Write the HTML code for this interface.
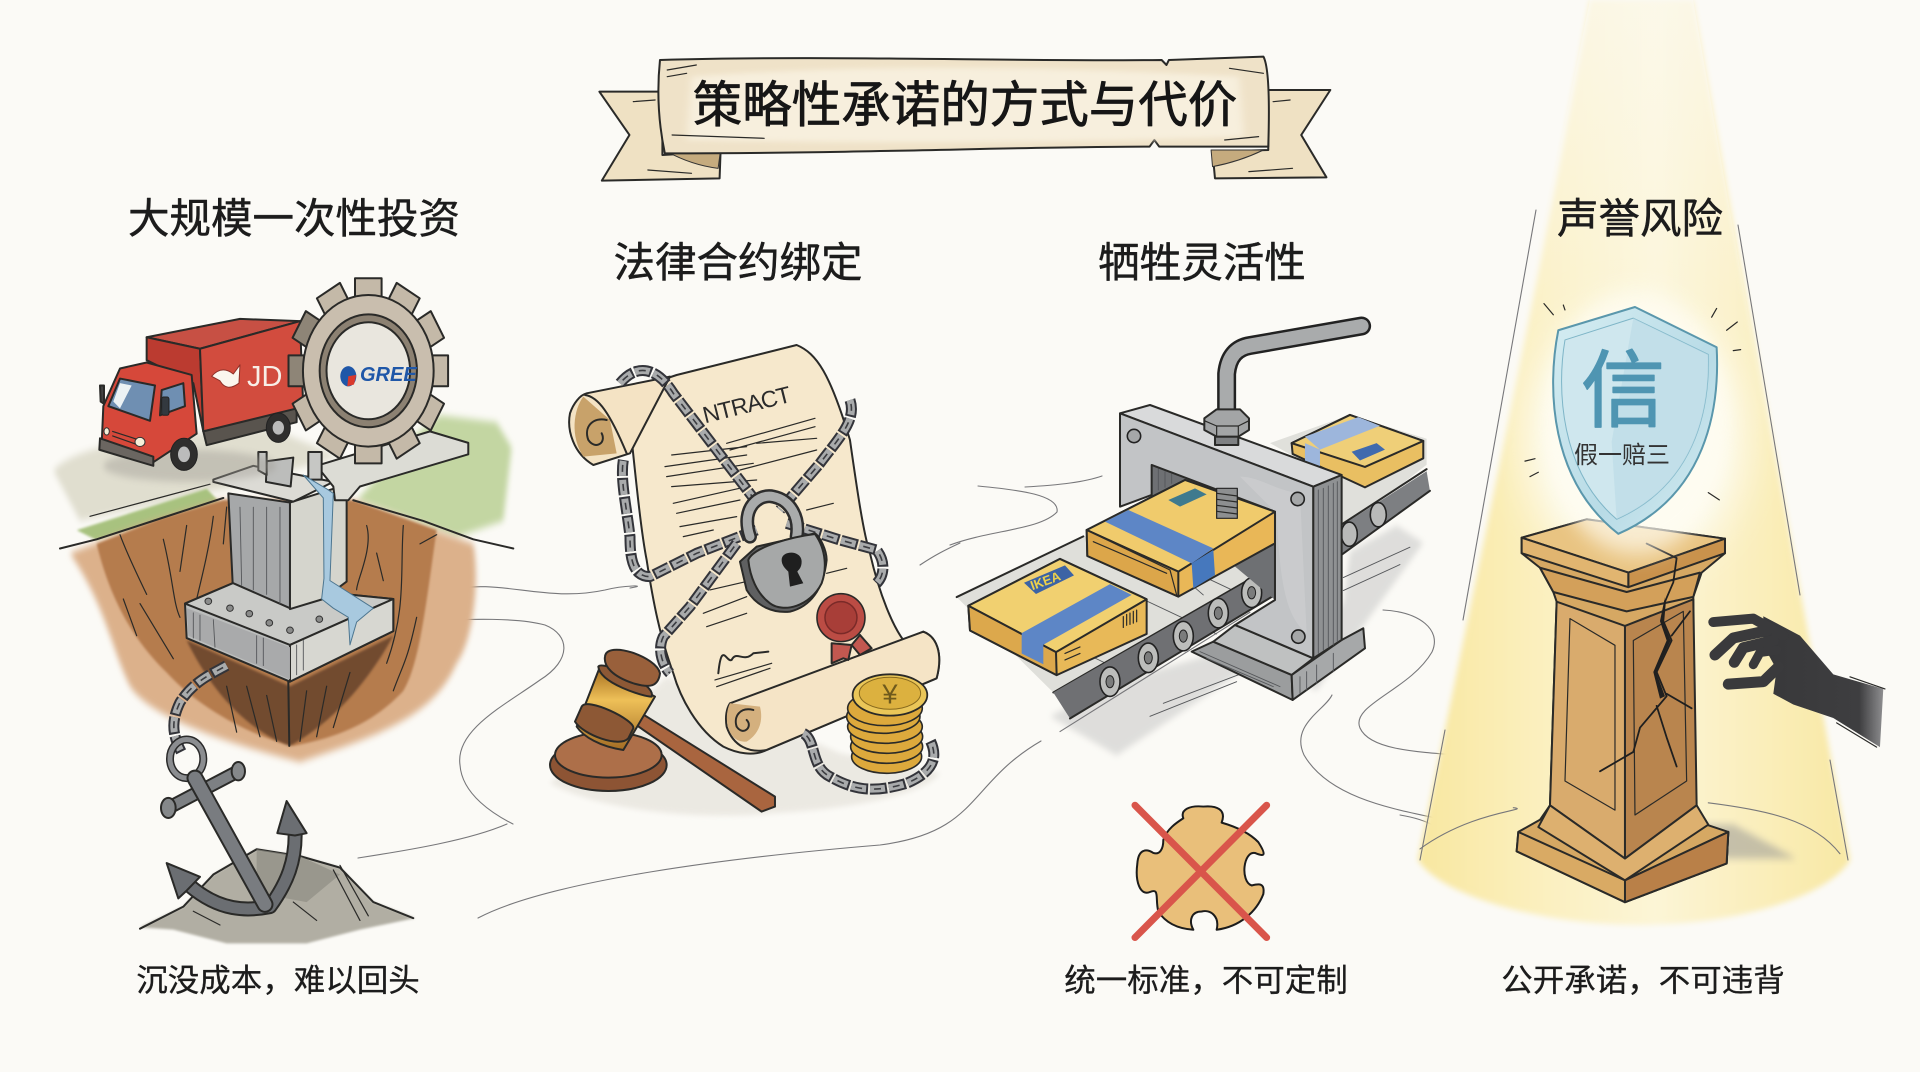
<!DOCTYPE html>
<html lang="zh"><head><meta charset="utf-8"><title>策略性承诺的方式与代价</title>
<style>
html,body{margin:0;padding:0;background:#fbfaf6;width:1920px;height:1072px;overflow:hidden}
svg{display:block}
svg *{vector-effect:non-scaling-stroke;stroke-linejoin:round;stroke-linecap:round}
text{font-family:"Liberation Sans","Noto Sans CJK SC",sans-serif;vector-effect:none}
.h{font-size:41.5px;fill:#1c1c1c;text-anchor:middle;stroke:#1c1c1c;stroke-width:.5px}
.c{font-size:31.5px;fill:#1c1c1c;text-anchor:middle;stroke:#1c1c1c;stroke-width:.3px}
.k{stroke:#2a2a28;stroke-width:2px}
.t{fill:none;stroke:#2a2a28;stroke-width:1.2px}
.s{fill:none;stroke:#77777a;stroke-width:1.1px}
.ch1{fill:none;stroke:#33343a;stroke-width:11px;stroke-dasharray:17 2;stroke-linecap:butt}
.ch2{fill:none;stroke:#a9abac;stroke-width:7px;stroke-dasharray:15 4;stroke-linecap:butt}
.ch3{fill:none;stroke:#3d3e42;stroke-width:1.6px;stroke-dasharray:7 12;stroke-dashoffset:-4;stroke-linecap:butt}
.hh{fill:none;stroke:#55575a;stroke-width:.9px}
</style></head><body>
<svg xmlns="http://www.w3.org/2000/svg" width="1920" height="1072" viewBox="0 0 1920 1072">
<defs>
<filter id="b" x="-20%" y="-20%" width="140%" height="140%"><feGaussianBlur stdDeviation="8"/></filter>
<filter id="b3" x="-10%" y="-10%" width="120%" height="120%"><feGaussianBlur stdDeviation="3"/></filter>
<filter id="b2" x="-30%" y="-30%" width="160%" height="160%"><feGaussianBlur stdDeviation="22"/></filter>
<linearGradient id="beam" x1="0" x2="1" y1="0" y2="0"><stop offset="0" stop-color="#f8e7a0"/><stop offset=".3" stop-color="#fbf0c0"/><stop offset=".55" stop-color="#fcf5d6"/><stop offset="1" stop-color="#f8e8a4"/></linearGradient>
<linearGradient id="fade" x1="0" x2="0" y1="0" y2="1"><stop offset="0" stop-color="#fbfaf6" stop-opacity=".6"/><stop offset="1" stop-color="#fbfaf6" stop-opacity="0"/></linearGradient>
<linearGradient id="sh" x1="0" x2="1" y1="0" y2="1"><stop offset="0" stop-color="#d5edf2"/><stop offset=".6" stop-color="#b8dbe6"/><stop offset="1" stop-color="#d6edf2"/></linearGradient>
<linearGradient id="gold" x1="0" x2="0" y1="0" y2="1"><stop offset="0" stop-color="#a36a1c"/><stop offset=".4" stop-color="#eec058"/><stop offset="1" stop-color="#a46d24"/></linearGradient>
<linearGradient id="hand" x1="0" x2="1" y1="0" y2="0"><stop offset="0" stop-color="#38383a"/><stop offset=".8" stop-color="#3e3e40"/><stop offset="1" stop-color="#8e8e90"/></linearGradient>
</defs>
<rect width="1920" height="1072" fill="#fbfaf6"/>

<!-- background squiggles -->
<g>
<path class="s" d="M450,590 C500,578 545,603 605,590 C625,585 650,585 630,588"/>
<path class="s" d="M427,622 C470,618 520,618 545,625 C570,635 572,660 540,680 C505,705 455,730 460,765 C462,795 495,815 513,824"/>
<path class="s" d="M358,858 C410,850 470,840 507,824"/>
<path class="s" d="M478,918 C550,880 735,857 880,845 C980,832 967,784 1041,741"/>
<path class="s" d="M978,486 C1020,490 1060,495 1057,512 C1040,530 990,530 950,545"/>
<path class="s" d="M1025,487 C1060,485 1085,482 1102,476"/>
<path class="s" d="M920,565 C935,555 945,550 960,543"/>
<path class="s" d="M1383,610 C1420,612 1442,630 1432,652 C1410,690 1350,705 1360,728 C1372,755 1440,752 1505,759"/>
<path class="s" d="M1332,695 C1325,710 1290,725 1304,755 C1330,800 1400,810 1445,820"/>
<path class="s" d="M1400,815 C1430,820 1445,830 1447,842"/>
</g>

<!-- Spotlight -->
<g>
<path d="M1590,0 L1693,0 C1730,200 1790,540 1850,860 C1830,895 1740,925 1640,925 C1540,925 1440,895 1418,860 C1480,560 1555,200 1590,0Z" fill="url(#beam)" filter="url(#b3)"/>
<path d="M1590,0 L1693,0 L1770,440 L1500,440Z" fill="url(#fade)"/>
<ellipse cx="1635" cy="440" rx="110" ry="130" fill="#fdfbef" filter="url(#b2)"/>
<path class="s" d="M1536,210 L1463,620"/><path class="s" d="M1738,225 L1800,595"/><path class="s" d="M1445,730 L1420,860"/><path class="s" d="M1830,760 L1848,860"/>
</g>

<!-- Banner -->
<g transform="translate(580,40) scale(.4847,.3333)">
<path class="k" d="M40,155 L170,155 L170,345 L290,335 L288,415 L45,422 L102,285Z" fill="#efe1c3"/>
<path class="k" d="M1548,150 L1420,150 L1420,330 L1305,335 L1310,415 L1540,412 L1488,285Z" fill="#efe1c3"/>
<path d="M180,335 Q230,375 285,385 L290,330Z M1410,330 Q1360,365 1305,380 L1302,330Z" fill="#c5ab7e" stroke="#333" stroke-width="1"/>
<path class="k" d="M165,60 C500,45 900,65 1200,60 L1210,75 L1215,60 L1410,50 Q1425,90 1420,320 L1195,320 L1185,300 L1175,320 C900,320 600,340 175,340 Q155,200 165,60Z" fill="#efe2c8"/>
<path d="M230,110 C600,70 1000,80 1360,110 L1370,290 C1000,310 600,310 220,300Z" fill="#f7efdd" filter="url(#b)"/>
<path class="t" d="M180,90 L240,75 M180,110 L220,100 M190,285 L380,295 M1340,85 L1410,100 M1330,300 L1400,290 M110,185 L155,180 M1430,185 L1465,180 M140,390 L230,400 M1380,395 L1470,385" stroke="#8c8471"/>
</g>
<text x="965" y="122" font-size="49.5" fill="#161616" stroke="#161616" stroke-width=".8" text-anchor="middle">策略性承诺的方式与代价</text>

<!-- Headings -->
<text class="h" x="294" y="233">大规模一次性投资</text>
<text class="h" x="738" y="277">法律合约绑定</text>
<text class="h" x="1202" y="277">牺牲灵活性</text>
<text class="h" x="1640" y="233">声誉风险</text>
<text class="c" x="278" y="991">沉没成本，难以回头</text>
<text class="c" x="1206" y="991">统一标准，不可定制</text>
<text class="c" x="1643" y="991">公开承诺，不可违背</text>

<!-- SECTION 1 -->
<g transform="translate(40,250) scale(.3333,.4592)">
<path d="M40,480 C100,430 300,400 700,390 L900,450 L560,520 L120,590Z" fill="#e0decf" filter="url(#b)"/>
<path d="M1130,400 L1200,360 L1370,375 L1415,430 L1390,590 L1250,625 L950,545Z" fill="#c3d6a2" filter="url(#b)"/>
<path d="M110,610 L500,520 L540,550 L360,590 L170,632Z" fill="#a8c27f" filter="url(#b3)"/>
<path d="M90,660 L300,600 L540,545 L940,545 L1300,640 C1320,720 1300,850 1250,900 C1180,1020 1000,1060 780,1115 C650,1090 340,1030 270,950 C210,860 200,780 90,660Z" fill="#dcb18b" filter="url(#b)"/>
<path d="M170,640 L360,585 L550,545 L940,545 L1190,610 C1160,760 1140,900 1090,960 C1000,1030 900,1060 760,1080 C640,1060 480,1000 380,920 C280,850 210,760 170,640Z" fill="#b57b4e" filter="url(#b3)"/>
<path class="t" d="M240,620 C260,660 300,720 320,750 M370,630 C400,720 400,770 420,800 M520,580 C510,640 490,700 470,760 M1090,600 C1080,700 1100,780 1040,900 M1190,620 L1140,640 M980,600 C1000,650 950,720 950,740 M300,770 L400,890 M1130,800 C1100,900 1090,900 1060,960 M440,600 L420,700 M560,560 L550,640 M1010,660 L1030,720 M250,760 L290,840"/>
<path d="M440,850 L750,950 L1060,840 C1000,920 900,1020 750,1080 C600,1040 500,940 440,850Z" fill="#5c3b25" opacity=".75" filter="url(#b3)"/>
<path class="t" d="M560,950 L590,1050 M620,950 L660,1060 M680,970 L710,1070 M800,960 L780,1070 M860,950 L830,1060 M930,920 L880,1040"/>
<path class="k" d="M745,940 L748,1080" stroke-width="2.5"/>
<path class="k" d="M60,650 L170,630 L360,585 L550,540 M940,545 L1150,590 L1300,630 L1420,650" fill="none"/>
<path class="t" d="M150,580 L330,545 L510,510"/>
<path class="k" d="M435,770 L580,725 L1060,760 L1060,830 L750,940 L440,845Z" fill="#bcbebd"/>
<path class="k" d="M435,770 L580,725 L1060,760 L750,860Z" fill="#c9cac7"/>
<path class="k" d="M750,860 L1060,760 L1060,830 L750,940Z" fill="#d7d7d1"/>
<path d="M440,780 L750,865 L750,935 L445,840Z" fill="#a9aaab"/>
<path class="hh" d="M460,790 L460,845 M480,795 L480,850 M520,805 L525,865 M650,840 L650,900 M670,845 L670,905 M770,860 L770,925 M790,850 L790,915"/>
<g fill="#8a8b8a" stroke="#333" stroke-width="1"><ellipse cx="505" cy="765" rx="10" ry="7"/><ellipse cx="570" cy="780" rx="10" ry="7"/><ellipse cx="628" cy="792" rx="10" ry="7"/><ellipse cx="688" cy="812" rx="10" ry="7"/><ellipse cx="750" cy="828" rx="10" ry="7"/><ellipse cx="838" cy="804" rx="10" ry="7"/></g>
<path class="k" d="M565,530 L750,550 L750,780 L578,725Z" fill="#a6a8a9"/>
<path class="hh" d="M600,560 L605,730 M640,560 L640,740 M680,560 L680,750 M720,560 L720,770"/>
<path class="k" d="M750,550 L880,520 L920,510 L920,722 L850,760 L750,782Z" fill="#d5d5cd"/>
<path class="k" d="M520,500 L640,470 L880,505 L760,548 L520,505Z" fill="#dcdbd5"/>
<path class="k" d="M880,515 L830,470 L1170,395 L1285,420 L1285,445 L960,515 L925,545 L885,545Z" fill="#dcdcd5"/>
<path class="k" d="M680,460 L760,452 L752,515 L678,505Z" fill="#bcbdbb"/>
<path class="k" d="M655,440 L680,440 L680,490 L655,480Z M805,440 L845,440 L845,500 L805,500Z" fill="#c6c7c4"/>
<path d="M790,490 L860,520 L880,530 L870,720 L1000,780 L950,810 L930,860 L925,800 L880,780 L845,760 L852,715 L850,540Z" fill="#a8c9df" stroke="#4d7690" stroke-width="1"/>
<!-- truck -->
<ellipse cx="450" cy="470" rx="260" ry="35" fill="#a19e96" opacity=".45" filter="url(#b)"/>
<path class="k" d="M320,190 L600,150 L780,155 L480,215Z" fill="#c75044"/>
<path class="k" d="M320,190 L480,215 L490,395 L460,290 L320,240Z" fill="#bb3b30"/>
<path class="k" d="M480,215 L780,155 L790,345 L490,395Z" fill="#d24c3e"/>
<path class="k" d="M490,395 L770,345 L770,375 L500,425Z" fill="#59544e"/>
<ellipse cx="715" cy="387" rx="36" ry="32" fill="#2f2e2d" stroke="#222"/><ellipse cx="715" cy="387" rx="17" ry="15" fill="#bbb"/>
<path class="k" d="M190,340 L240,258 L320,245 L455,272 L470,400 L340,462 L185,425Z" fill="#d6483a"/>
<path class="k" d="M205,340 L240,280 L345,295 L330,372Z" fill="#6f8fb2"/>
<path d="M220,330 L240,290 L275,295 L240,345Z" fill="#ecf2f4"/>
<path class="k" d="M365,305 L430,290 L435,340 L360,360Z" fill="#6f8fb2"/>
<rect x="365" y="320" width="22" height="40" rx="5" fill="#33393f" stroke="#222"/>
<path class="k" d="M180,295 L192,295 L192,335 L182,330Z" fill="#444"/>
<path class="k" d="M180,410 L340,450 L340,470 L178,435Z" fill="#6b6661"/>
<path class="t" d="M218,395 L290,412 M218,405 L285,422"/>
<ellipse cx="300" cy="418" rx="15" ry="10" fill="#f6efd8" stroke="#333"/><ellipse cx="200" cy="395" rx="8" ry="8" fill="#f6efd8" stroke="#333"/>
<ellipse cx="432" cy="445" rx="40" ry="35" fill="#2f2e2d" stroke="#222"/><ellipse cx="432" cy="445" rx="18" ry="17" fill="#bbb"/>
<path d="M515,275 Q545,250 580,270 L600,250 L597,290 Q560,310 540,285Z" fill="#fbf6ee" stroke="#8e3028" stroke-width="1"/>
<!-- gear -->
<g transform="translate(985,263) scale(1.14,.96)">
<g fill="#c4b9a8" stroke="#2a2a28" stroke-width="2">
<rect x="-35" y="-210" width="70" height="60"/>
<rect x="-35" y="-210" width="70" height="60" transform="rotate(30)"/>
<rect x="-35" y="-210" width="70" height="60" transform="rotate(60)"/>
<rect x="-35" y="-210" width="70" height="60" transform="rotate(90)"/>
<rect x="-35" y="-210" width="70" height="60" transform="rotate(120)"/>
<rect x="-35" y="-210" width="70" height="60" transform="rotate(150)"/>
<rect x="-35" y="-210" width="70" height="60" transform="rotate(180)"/>
<rect x="-35" y="-210" width="70" height="60" transform="rotate(210)"/>
<rect x="-35" y="-210" width="70" height="60" transform="rotate(240)"/>
<rect x="-35" y="-210" width="70" height="60" transform="rotate(270)" fill="#8e8577"/>
<rect x="-35" y="-210" width="70" height="60" transform="rotate(300)" fill="#8e8577"/>
<rect x="-35" y="-210" width="70" height="60" transform="rotate(330)"/>
</g>
<circle r="172" fill="#c9beae" stroke="#2a2a28" stroke-width="2"/>
<circle r="128" fill="#8c8172" stroke="#2a2a28" stroke-width="2"/>
<circle r="110" fill="#e9e6de" stroke="#2a2a28" stroke-width="2"/>
</g>
<ellipse cx="925" cy="275" rx="24" ry="22" fill="#1f57a8"/>
<path d="M925,275 L949,272 L942,293 L922,297Z" fill="#d9392c"/>
<!-- rock -->
<path d="M300,1475 L430,1430 L520,1360 L650,1305 L780,1320 L900,1345 L1000,1420 L1125,1455 L960,1480 L800,1510 L560,1510 L400,1480Z" fill="#b1aea3" filter="url(#b3)"/>
<path class="k" d="M300,1478 L430,1430 L520,1360 L650,1305 L780,1320 L900,1345 L1000,1420 L1120,1455" fill="none"/>
<path d="M650,1305 L780,1320 L900,1360 L800,1420 L650,1400Z" fill="#8f8d83" opacity=".7"/>
<path class="t" d="M880,1350 L960,1460 M900,1340 L985,1450 M460,1440 L540,1470 M760,1420 L830,1460"/>
<!-- chain -->
<path class="ch1" d="M560,905 C510,925 460,940 420,985 C390,1030 400,1060 425,1095"/>
<path class="ch2" d="M560,905 C510,925 460,940 420,985 C390,1030 400,1060 425,1095"/>
<path class="ch3" d="M560,905 C510,925 460,940 420,985 C390,1030 400,1060 425,1095"/>
<!-- anchor -->
<ellipse cx="440" cy="1108" rx="50" ry="42" fill="none" stroke="#2a2a2a" stroke-width="8"/>
<ellipse cx="440" cy="1108" rx="50" ry="42" fill="none" stroke="#8b8d90" stroke-width="5"/>
<path d="M385,1215 L595,1135" fill="none" stroke="#2a2a28" stroke-width="14"/>
<path d="M385,1215 L595,1135" fill="none" stroke="#7d8083" stroke-width="10"/>
<circle cx="385" cy="1215" r="22" fill="#85888a" stroke="#2a2a28" stroke-width="2"/><circle cx="595" cy="1135" r="20" fill="#85888a" stroke="#2a2a28" stroke-width="2"/>
<path d="M450,1385 C540,1440 620,1440 690,1430 C740,1380 770,1330 765,1260" fill="none" stroke="#2a2a28" stroke-width="15"/>
<path d="M450,1385 C540,1440 620,1440 690,1430 C740,1380 770,1330 765,1260" fill="none" stroke="#6b6e72" stroke-width="11"/>
<path d="M465,1150 L675,1425" fill="none" stroke="#2a2a28" stroke-width="17"/>
<path d="M465,1150 L675,1425" fill="none" stroke="#797c80" stroke-width="13"/>
<path class="k" d="M380,1335 L480,1365 L440,1395 L415,1412Z" fill="#6b6e72"/>
<path class="k" d="M740,1200 L800,1270 L765,1275 L712,1270Z" fill="#6b6e72"/>
</g>
<text x="247" y="386" font-size="29" fill="#f8efe7" style="font-family:'Liberation Sans',sans-serif">JD</text>
<text x="360" y="381" font-size="20" font-weight="700" font-style="italic" fill="#1f57a8" style="font-family:'Liberation Sans',sans-serif">GREE</text>

<!-- SECTION 2 -->
<g transform="translate(540,320) scale(.3333)">
<path d="M30,1390 C200,1480 500,1500 700,1480 C900,1470 1150,1430 1200,1360 L900,1300 L380,1070Z" fill="#e5e2da" opacity=".7" filter="url(#b)"/>
<path class="k" d="M260,215 L410,165 L770,75 C830,100 870,160 930,360 C950,500 970,640 990,700 C1020,830 1060,920 1090,960 L1150,935 C1190,950 1210,1000 1190,1075 L680,1290 C640,1310 590,1300 550,1280 C470,1230 420,1130 400,1060 C360,950 340,850 320,720 C300,620 280,400 260,215Z" fill="#f6e8cc"/>
<path class="k" d="M140,220 L390,170 L270,400 L160,435 C100,400 80,330 90,280 C100,250 120,225 140,220Z" fill="#f4e3c4"/>
<path d="M130,230 C100,270 90,350 130,410 L230,400 L210,300Z" fill="#c8a26a"/>
<path class="k" d="M200,300 C160,290 130,320 145,360 C165,390 200,370 185,340" fill="none"/>
<path class="k" d="M135,225 C175,230 210,280 260,400" fill="none"/>
<path class="k" d="M570,1150 L1150,935 C1190,950 1210,1000 1190,1075 L680,1290 C630,1300 580,1280 560,1220 C555,1190 560,1165 570,1150Z" fill="#f5e4c6"/>
<path d="M570,1150 C550,1190 560,1270 620,1265 C660,1240 670,1200 660,1160Z" fill="#d4b07e"/>
<path class="k" d="M640,1170 C600,1160 580,1190 590,1220 C610,1250 640,1220 620,1200" fill="none"/>
<text transform="translate(495,310) rotate(-14)" font-size="70" fill="#2b2b2b" style="font-family:'Liberation Sans',sans-serif" textLength="270">NTRACT</text>
<path class="t" stroke="#6f685a" d="M560,370 L825,295 M570,390 L825,320 M395,405 L620,380 M650,370 L830,355 M375,440 L620,405 M600,450 L830,390 M380,470 L640,430 M395,500 L650,480 M400,550 L620,500 M410,580 L600,540 M420,620 L590,590 M430,650 L520,630 M800,570 L880,550 M510,810 L640,780 M490,880 L620,830 M500,920 L620,880 M860,760 L920,745"/>
<path class="k" d="M535,1060 C545,960 560,1030 575,1020 C590,990 610,1030 640,1000 L685,995" fill="none" stroke-width="2"/>
<path class="t" d="M525,1080 L695,1030 M530,1100 L690,1045"/>
<!-- chains -->
<path class="ch1" d="M240,190 C290,130 350,140 400,220 L660,560"/><path class="ch2" d="M240,190 C290,130 350,140 400,220 L660,560"/><path class="ch3" d="M240,190 C290,130 350,140 400,220 L660,560"/>
<path class="ch1" d="M930,240 C950,300 900,350 840,430 L720,570"/><path class="ch2" d="M930,240 C950,300 900,350 840,430 L720,570"/><path class="ch3" d="M930,240 C950,300 900,350 840,430 L720,570"/>
<path class="ch1" d="M650,630 L470,700 L330,770 C280,770 270,720 270,650 C260,560 240,480 250,420"/><path class="ch2" d="M650,630 L470,700 L330,770 C280,770 270,720 270,650 C260,560 240,480 250,420"/><path class="ch3" d="M650,630 L470,700 L330,770 C280,770 270,720 270,650 C260,560 240,480 250,420"/>
<path class="ch1" d="M740,610 L900,660 L1010,690 C1040,730 1030,770 1010,790"/><path class="ch2" d="M740,610 L900,660 L1010,690 C1040,730 1030,770 1010,790"/><path class="ch3" d="M740,610 L900,660 L1010,690 C1040,730 1030,770 1010,790"/>
<path class="ch1" d="M590,670 L450,860 L370,950 C350,990 370,1040 390,1060"/><path class="ch2" d="M590,670 L450,860 L370,950 C350,990 370,1040 390,1060"/><path class="ch3" d="M590,670 L450,860 L370,950 C350,990 370,1040 390,1060"/>
<path d="M630,650 C600,560 660,520 700,530 C750,540 780,590 770,650" fill="none" stroke="#2d2d2d" stroke-width="14"/>
<path d="M630,650 C600,560 660,520 700,530 C750,540 780,590 770,650" fill="none" stroke="#a9abab" stroke-width="9"/>
<path class="k" d="M600,725 L620,810 C650,860 700,880 750,875 C810,860 850,810 860,720 C860,690 840,650 825,640 L650,680Z" fill="#5f6061"/>
<path class="k" d="M625,720 C640,680 760,650 825,642 C860,690 860,750 845,790 C810,860 730,880 690,850 C650,820 630,770 625,720Z" fill="#a6a8a8"/>
<path d="M725,720 C725,690 785,690 785,725 C785,745 775,750 772,755 L790,790 L750,800 L745,755 C735,745 725,735 725,720Z" fill="#1f1f1f"/>
<path class="k" d="M875,970 L875,1030 L910,1015 L925,1020 L935,975Z M935,975 L960,1005 L995,985 L960,945Z" fill="#c25850" stroke-width="1.5"/>
<circle cx="903" cy="893" r="72" fill="#bb4c44" stroke="#2a2a28" stroke-width="1.6"/>
<circle cx="903" cy="893" r="48" fill="#a83e38" stroke="#7a2a28" stroke-width="1.5"/>
<!-- gavel -->
<ellipse cx="205" cy="1335" rx="175" ry="78" fill="#8d5434" stroke="#2a2a28" stroke-width="2"/>
<ellipse cx="205" cy="1305" rx="160" ry="68" fill="#ad6f49" stroke="#2a2a28" stroke-width="2"/>
<path d="M280,1165 L360,1215 L705,1430 L705,1460 L665,1475 L310,1230 L275,1205Z" fill="#a9653f" stroke="#2a2a28" stroke-width="2"/>
<path class="k" d="M110,1220 L180,1040 L345,1130 L250,1290 C180,1280 130,1250 110,1220Z" fill="url(#gold)"/>
<path class="k" d="M175,1040 C185,1020 350,1090 335,1130 C310,1130 180,1090 175,1040Z M125,1160 C140,1130 285,1200 280,1225 L265,1255 C240,1285 130,1245 105,1205Z" fill="#8d5835"/>
<path class="k" d="M195,1010 C200,960 350,1010 360,1060 C355,1100 330,1105 280,1090 C220,1070 190,1040 195,1010Z" fill="#99603b"/>
<!-- coins -->
<path class="ch1" d="M790,1240 C830,1260 810,1340 870,1370 C940,1410 1000,1420 1100,1390 C1170,1360 1200,1320 1170,1260"/><path class="ch2" d="M790,1240 C830,1260 810,1340 870,1370 C940,1410 1000,1420 1100,1390 C1170,1360 1200,1320 1170,1260"/><path class="ch3" d="M790,1240 C830,1260 810,1340 870,1370 C940,1410 1000,1420 1100,1390 C1170,1360 1200,1320 1170,1260"/>
<g fill="#dda93c" stroke="#2a2a28" stroke-width="1.6">
<ellipse cx="1040" cy="1310" rx="105" ry="50"/><ellipse cx="1040" cy="1280" rx="108" ry="50"/><ellipse cx="1040" cy="1250" rx="108" ry="50"/><ellipse cx="1035" cy="1220" rx="112" ry="50"/><ellipse cx="1030" cy="1190" rx="110" ry="50"/><ellipse cx="1035" cy="1165" rx="112" ry="52"/></g>
<ellipse cx="1050" cy="1125" rx="112" ry="62" fill="#eac658" stroke="#2a2a28" stroke-width="1.8"/>
<ellipse cx="1050" cy="1120" rx="92" ry="48" fill="#dcb13f" stroke="#87691e" stroke-width="1"/>
<text x="1050" y="1150" font-size="82" text-anchor="middle" fill="#6f5a1c" style="font-family:'Liberation Sans','Noto Sans CJK SC',sans-serif">¥</text>
</g>

<!-- SECTION 3 -->
<g transform="translate(950,300) scale(.3333,.4337)">
<path d="M300,960 L500,880 L860,800 L1100,900 L1420,560 L1340,520 L1200,580 L1180,700 L500,1050 Z" fill="#cfcfcd" opacity=".65" filter="url(#b)"/>
<path class="hh" stroke="#aaa" d="M600,960 L860,880 M640,930 L880,860 M1180,640 L1380,570 M1180,670 L1350,610"/>
<path d="M960,330 L1200,265 L1430,320 L1430,380 L1180,530 L1170,420Z" fill="#e0e0db"/>
<path d="M1175,520 L1430,395 L1440,440 L1175,585Z" fill="#7d7f82"/>
<path class="k" d="M1170,520 L1430,390 M1170,590 L1440,440" fill="none"/>
<g fill="#b9bab9" stroke="#222" stroke-width="1.6"><ellipse cx="1198" cy="540" rx="24" ry="28"/><ellipse cx="1285" cy="495" rx="24" ry="28"/></g>
<path class="k" d="M1025,330 L1200,265 L1420,325 L1420,365 L1245,432 L1028,355Z" fill="#e9bf62"/>
<path class="k" d="M1025,330 L1200,265 L1420,325 L1245,385Z" fill="#efcf78"/>
<path d="M1065,315 L1225,270 L1290,290 L1110,345Z M1065,330 L1110,345 L1110,395 L1065,375Z" fill="#9db6dc"/>
<path d="M1205,350 L1280,330 L1305,345 L1230,370Z" fill="#3f6aae"/>
</g>
<!-- press base (true-scale coords) -->
<g transform="translate(1100,400) scale(.3333)">
<path class="k" d="M275,755 L340,725 L575,825 L578,900Z" fill="#9b9d9e"/>
<path class="k" d="M578,900 L575,825 L725,720 L790,685 L795,745Z" fill="#a6a8a9"/>
<path d="M340,725 L405,675 L640,775 L575,825Z" fill="#bfc1c1" stroke="#2a2a28" stroke-width="2"/>
<path class="hh" d="M300,755 L540,860 M320,775 L520,860 M600,830 L600,880 M620,815 L620,870 M650,795 L650,850 M700,760 L700,815"/>
</g>
<g transform="translate(950,300) scale(.3333,.4337)">
<path d="M20,685 L400,545 L980,600 L980,625 L310,905Z" fill="#dfdfda"/>
<path class="hh" stroke="#999" d="M330,600 L800,770 M560,565 L850,670 M700,640 L760,680 M420,820 L500,850"/>
<path class="k" d="M20,685 L400,545 M310,905 L975,610" fill="none"/>
<path d="M310,905 L975,612 L975,682 L360,965Z" fill="#6f7073"/>
<path class="k" d="M360,965 L975,680" fill="none"/>
<path class="s" d="M330,995 L900,720"/>
<g fill="#bcbdbb" stroke="#222" stroke-width="1.6">
<ellipse cx="480" cy="880" rx="30" ry="34"/><ellipse cx="595" cy="825" rx="30" ry="34"/><ellipse cx="700" cy="775" rx="30" ry="34"/><ellipse cx="805" cy="722" rx="30" ry="34"/><ellipse cx="905" cy="675" rx="30" ry="34"/></g>
<g fill="#7b7c7c" stroke="#222" stroke-width="1"><ellipse cx="480" cy="880" rx="12" ry="14"/><ellipse cx="595" cy="825" rx="12" ry="14"/><ellipse cx="700" cy="775" rx="12" ry="14"/><ellipse cx="805" cy="722" rx="12" ry="14"/><ellipse cx="905" cy="675" rx="12" ry="14"/></g>
<!-- box 1 -->
<path class="k" d="M55,705 L330,597 L590,690 L590,770 L320,865 L60,762Z" fill="#e8b958"/>
<path class="k" d="M55,705 L330,597 L590,690 L318,812Z" fill="#f1d070"/>
<path class="k" d="M55,705 L318,812 L320,865 L60,762Z" fill="#dca84c" stroke-width="1.4"/>
<path d="M215,768 L480,655 L545,680 L280,795 L280,840 L215,815Z" fill="#5d86c6"/>
<path d="M222,652 L345,612 L372,635 L258,678Z" fill="#3c63a5"/>
<path class="t" d="M520,730 L520,755 M530,725 L530,750 M540,722 L540,748 M550,718 L550,745 M560,715 L560,742 M345,815 L390,800 M345,830 L390,815"/>
<!-- puzzle -->
<path d="M700,1195 C690,1175 720,1165 760,1168 C800,1165 830,1175 815,1205 C860,1215 900,1230 925,1250 C950,1280 945,1285 915,1275 C880,1270 870,1340 905,1350 C930,1345 945,1345 940,1370 C920,1410 870,1445 800,1452 C810,1420 780,1405 755,1410 C725,1410 715,1430 730,1452 C690,1450 650,1440 625,1410 C615,1380 630,1355 600,1365 C570,1375 555,1340 562,1300 C565,1265 590,1265 610,1275 C630,1280 640,1265 640,1245 C650,1220 680,1205 700,1195Z" fill="#e9bf7a" stroke="#1c1c1c" stroke-width="2"/>
<path d="M555,1165 L950,1470 M950,1165 L555,1470" stroke="#d9554b" stroke-width="7" fill="none"/>
</g>
<text transform="translate(1047,585) rotate(-20)" font-size="13" font-weight="700" text-anchor="middle" fill="#ecd04b" style="font-family:'Liberation Sans',sans-serif">IKEA</text>
<!-- press (true 3x coords) -->
<g transform="translate(1100,400) scale(.3333)">
<path d="M155,195 L525,335 L525,600 L155,290Z" fill="#6e7073"/>
<path class="hh" d="M175,205 L175,270 M195,215 L195,262 M215,222 L215,250"/>
<path class="k" d="M60,40 L150,15 L725,225 L640,260Z" fill="#d9dadb"/>
<path class="k" d="M60,40 L640,260 L640,775 L405,675 L525,600 L525,335 L155,195 L155,285 L60,320Z" fill="#c2c4c6"/>
<path d="M420,230 C480,230 520,270 600,280 L620,700 C560,650 540,560 530,340Z" fill="#cfd1d2" opacity=".6"/>
<path class="k" d="M640,260 L725,225 L725,720 L640,775Z" fill="#8f9193"/>
<path class="hh" d="M655,270 L655,760 M670,265 L670,750 M685,258 L685,740 M700,250 L700,735 M712,245 L712,725"/>
<g fill="#a5a7a8" stroke="#222" stroke-width="1.6"><circle cx="102" cy="108" r="20"/><circle cx="593" cy="297" r="20"/><circle cx="595" cy="710" r="20"/></g>
<!-- box 2 -->
<path class="k" d="M-40,390 L255,240 L525,335 L525,430 L235,590 L-38,468Z" fill="#e9b757"/>
<path class="k" d="M-40,390 L255,240 L525,335 L235,515Z" fill="#f0cb6c"/>
<path class="k" d="M-40,390 L235,515 L235,590 L-38,468Z" fill="#dca64a"/>
<path d="M15,365 L85,330 L340,445 L275,490Z" fill="#5d86c6"/>
<path d="M275,490 L340,450 L345,525 L280,565Z" fill="#4678bd"/>
<path class="t" d="M-20,400 L210,510 L230,585 M-20,425 L200,520"/>
<path d="M205,300 L285,265 L320,283 L240,320Z" fill="#3f7a8e"/>
<!-- screw -->
<rect x="350" y="265" width="62" height="90" fill="#8d8f90" stroke="#222" stroke-width="1.2"/>
<path class="t" d="M350,280 L412,288 M350,298 L412,306 M350,316 L412,324 M350,334 L412,342"/>
</g>
<!-- handle -->
<g transform="translate(950,300) scale(.3333,.4337)">
<path d="M830,250 L830,170 C835,130 860,110 900,105 L1235,60" fill="none" stroke="#222" stroke-width="19"/>
<path d="M830,250 L830,170 C835,130 860,110 900,105 L1235,60" fill="none" stroke="#a9abac" stroke-width="14"/>
</g>
<!-- nut -->
<g transform="translate(1100,400) scale(.3333)">
<path class="k" d="M345,110 L415,110 L415,135 L345,135Z" fill="#7f8183"/>
<path class="k" d="M313,55 L350,28 L420,28 L447,55 L447,90 L415,110 L350,110 L313,90Z" fill="#a3a5a6"/>
<path class="t" d="M313,62 L350,78 L415,78 L447,62 M350,78 L350,110 M415,78 L415,110"/>
</g>

<!-- SECTION 4 -->
<g transform="translate(1400,180) scale(.3333,.4847)">
<path d="M700,1400 L1190,1400 L1000,1330 L820,1330Z" fill="#a2a099" opacity=".6" filter="url(#b)"/>
<path class="s" d="M60,1380 C220,1300 400,1300 340,1295 M925,1285 C1100,1300 1240,1320 1320,1390" stroke="#555"/>
<path class="k" d="M355,1345 L420,1320 L450,1290 L470,870 L460,850 L420,800 L365,770 L365,738 L560,700 L975,740 L975,770 L905,810 L880,860 L880,1290 L920,1330 L985,1345 L980,1410 L675,1490 L350,1385Z" fill="#d6a863"/>
<path class="k" d="M365,738 L560,700 L975,740 L685,810Z" fill="#e9c482"/>
<path class="k" d="M685,810 L975,740 L975,770 L685,840Z" fill="#c9924c"/>
<path class="k" d="M365,738 L685,810 L685,840 L365,770Z" fill="#e1b570"/>
<path class="k" d="M420,800 L680,850 L900,810 L880,860 L680,890 L460,850Z" fill="#d3a05a"/>
<path class="k" d="M470,870 L675,920 L675,1400 L450,1290Z" fill="#d9ab6d"/>
<path class="k" d="M675,920 L880,865 L890,1290 L675,1400Z" fill="#b9854e"/>
<path class="t" d="M510,905 L645,960 L645,1300 L495,1240Z M700,950 L850,890 L860,1240 L705,1310Z"/>
<path class="k" d="M450,1290 L675,1400 L890,1290 L925,1330 L675,1445 L415,1335Z" fill="#ddb06f"/>
<path class="k" d="M355,1345 L675,1445 L985,1345 L980,1410 L675,1490 L350,1385Z" fill="#d9aa64"/>
<path class="k" d="M675,1445 L985,1345 L980,1410 L675,1490Z" fill="#b98048"/>
<path d="M740,750 L830,780 L820,830 L795,870 L790,910 L815,950 L770,1015 L800,1065 L720,1130 L700,1180 L600,1220 M770,1085 L800,1150 L830,1210 M800,1060 L875,1090 M815,940 L870,890" fill="none" stroke="#1f1f1f" stroke-width="1.8"/>
<path d="M795,860 L788,910 L812,950 L768,1015 L795,1065 L780,1070 L760,1015 L800,950 L780,910Z" fill="#1f1f1f"/>
<!-- shield -->
<ellipse cx="710" cy="500" rx="280" ry="270" fill="#fffdf3" opacity=".7" filter="url(#b2)"/>
<path d="M475,310 L705,262 L950,345 C960,470 920,650 655,730 C450,620 440,430 475,310Z" fill="url(#sh)" stroke="#5a97ac" stroke-width="2"/>
<path d="M495,330 L700,285 L925,360 C930,480 880,630 650,700 C480,600 470,430 495,330Z" fill="#cfe7ee" stroke="#7eb5c7" stroke-width="1"/>
<path d="M700,285 L925,360 C930,480 880,630 650,700 L635,540 Z" fill="#b9dbe6" opacity=".6"/>
<path class="t" d="M432,255 L460,278 M490,258 L495,268 M950,265 L935,283 M980,310 L1012,293 M1000,352 L1022,350 M375,580 L405,575 M390,612 L415,603 M925,645 L958,660"/>
<!-- hand -->
<path d="M1090,900 L1200,940 L1300,1020 L1450,1050 L1440,1170 L1300,1110 L1180,1082 L1120,1060 L1130,1010 L1090,960Z" fill="url(#hand)"/>
<path d="M940,912 L1060,905 L1150,940" fill="none" stroke="#3a3a3c" stroke-width="10"/>
<path d="M945,980 L1000,945 L1100,930" fill="none" stroke="#3a3a3c" stroke-width="11"/>
<path d="M1003,995 L1030,965 L1120,950" fill="none" stroke="#3a3a3c" stroke-width="11"/>
<path d="M1060,1000 L1080,975 L1130,970" fill="none" stroke="#3a3a3c" stroke-width="9"/>
<path d="M985,1040 L1090,1035 L1135,1005" fill="none" stroke="#3a3a3c" stroke-width="11"/>
<path class="t" d="M1350,1025 L1455,1050 M1310,1120 L1430,1170" stroke="#333"/>
</g>
<text x="1623" y="420" font-size="84" text-anchor="middle" fill="#4f95b2" stroke="#4f95b2" stroke-width="1.4" style="font-family:'Liberation Sans','Noto Sans CJK SC',sans-serif">信</text>
<text x="1622" y="463" font-size="24" text-anchor="middle" fill="#333" style="font-family:'Liberation Sans','Noto Sans CJK SC',sans-serif">假一赔三</text>
</svg>
</body></html>
